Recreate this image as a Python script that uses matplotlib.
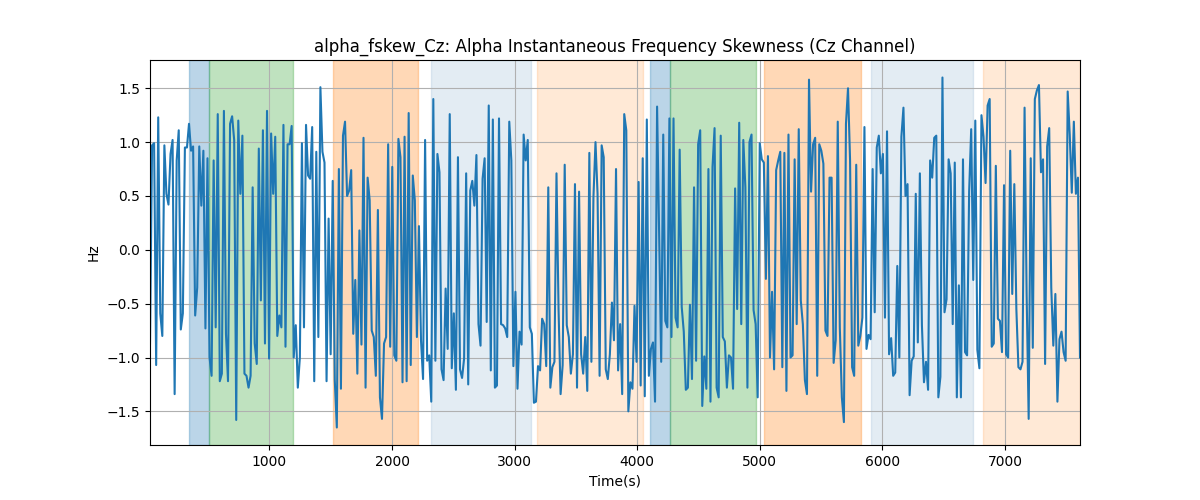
import numpy as np
import matplotlib
matplotlib.use("Agg")
import matplotlib.pyplot as plt

# skewness values, in time order
fskew = [
    -0.87, 0.97, 0.99, -1.07, 1.23, -0.59, -0.80, 0.97, 0.52, 0.42,
    0.89, 1.02, -1.34, 0.83, 1.11, -0.74, -0.59, 0.95, 0.95, 1.17,
    0.92, 0.96, -0.61, -0.35, 0.96, 0.41, 0.92, -0.73, 0.85, -1.00,
    -1.17, 0.83, -0.72, 1.26, -1.22, -1.15, 1.29, -0.78, -1.22, 1.17,
    1.24, 1.02, -1.58, 1.20, 0.52, 1.06, -1.15, -1.17, -1.28, -1.17,
    0.58, -0.87, -1.06, 0.94, -0.47, 1.11, -0.87, 1.29, -1.01, 1.08,
    0.52, 1.05, -0.80, -0.61, -0.72, 1.16, -0.90, 0.98, 0.98, 1.15,
    -1.00, -0.70, -1.28, -1.00, 0.99, -0.72, 1.16, 0.69, 0.66, 1.14,
    -1.22, 0.91, -0.81, 1.51, 0.91, 0.81, -1.22, 0.29, -0.97, 0.64,
    -1.21, -1.65, 0.75, -1.29, 1.06, 1.19, 0.50, 0.55, 0.74, -0.78,
    -0.28, -1.15, 0.18, -0.88, 1.04, -1.28, 0.67, 0.46, -0.75, -0.81,
    -1.17, 0.37, -1.37, -1.57, -0.87, -0.81, 0.98, -0.90, 0.77, -0.98,
    -1.03, 1.03, 0.86, -1.23, 1.05,
    -1.22, 1.27, -1.07, 0.69, 0.46, -0.81, 0.22, -0.84, -1.20, 1.02,
    -1.03, -0.98, -1.41, 1.40, -1.03, 0.89, 0.72, -1.11, -1.21, -0.36,
    -0.92, 1.26, -1.10, -0.59, -1.30, 0.86, -1.11, -1.19, -1.01, 0.71,
    -1.25, 0.55, 0.64, 0.41, 0.88, -0.69, -0.89, 0.66, 0.85, -0.67,
    1.34, -1.12, 1.21, -1.28, -1.26, 1.22, -0.69, -0.70, -0.73, -0.81,
    1.19, 0.83, -1.08, -0.39, -1.29, -0.76, -0.88, 1.07, 0.83, 1.02,
    -0.72, -0.78, -1.42, -1.41, -1.08, -1.12, -0.64,
    -0.69, -1.08, 0.58, -1.28, -1.09, -1.04, 0.71, -0.55, -1.34, -1.07,
    0.79, -0.70, -0.81, -1.15, -0.97, 0.61, -1.28, 0.54, -0.97, -1.15,
    -0.81, -1.31, 0.90, -1.04, 0.49, 1.00, 0.52, -1.17, 0.97, 0.86,
    -1.11, -1.20, -0.97, -0.49, -0.84, 0.75, -1.12, -0.69, -1.34, 1.26,
    1.11, -1.50, -1.23, -1.29, -0.52, -1.04, 0.63, -1.26, 0.85, -1.36,
    1.21, -1.17, -0.92, -0.86, -1.41, 1.33, 0.15, -1.04, 1.07, -0.66,
    -0.72, 1.22, -0.81, 1.22, -0.63, -0.72, 0.93, -0.53, -0.76, -1.30,
    -1.28, -0.51, -1.20, 0.58, -1.03, 0.98, 1.11, -1.45, -0.99, -1.29,
    0.75, -1.41, 0.77, 1.13, -1.28, -1.37, 1.06, -0.81, -0.85, -1.28,
    -0.98, -1.00, -1.29, 0.57, -0.55, 1.18, -0.69, 1.02, 0.58, -1.28,
    1.00, 1.07, -0.56, -0.69, -1.37, 0.99, 0.84, 0.81, -0.27, 0.87,
    -1.00, -0.39, -1.11, 0.74, 0.83, 0.91, -1.09, 0.90, -1.31, 1.07,
    -1.00, -0.98, 0.84, -0.69, 1.12, -0.47, -0.69, -1.21,
    -1.34, 1.58, 0.54, 0.98, 1.04, -1.17, 0.98, 0.92, 0.80, -0.75,
    -0.80, 0.67, 0.67, -1.05, -0.84, 1.19, -0.72, -1.37, -1.60, 1.17,
    1.50, 0.83, -1.09, -1.17, 0.79, -0.89, -0.80, -0.63, 1.14, -0.92,
    -0.79, -0.83, 0.75, -0.58, 0.95, 1.06, 0.71, 0.89, -0.63, 1.10,
    -0.97, -0.82, -1.17, -1.14, -0.15, -1.00, 1.05, 1.32, 0.50, 0.61,
    -1.35, -1.03, -0.99, 0.52, -0.86, 0.71, -0.70, -1.23, -1.04, -1.30,
    0.83, 0.67, 1.04, 1.06, -1.37, -1.18, 1.60,
    -0.58, -0.46, 0.84, 0.71, -0.69, 0.81, -1.37, -0.33, -1.37, 0.84,
    -0.95, -0.98, 0.54, 1.12, -0.28, 1.20, -0.93, -1.10, 1.25, 1.05,
    0.62, 1.34, 1.40, -0.90, -0.87, 0.78, -0.64, -0.66, -0.95, 0.60,
    -0.97, -1.00, 0.92, -0.41, 0.61, -0.55, -1.09, -1.11, -1.04, 1.32,
    -0.41, -1.57, 0.85, -0.91, 1.40, 1.48, 1.53, 0.72, 0.84, -1.06,
    0.96, 1.13, -0.35, -0.89, -0.41, -1.41, -0.83, -0.76, -0.95, -1.03,
    1.47, 1.07, 0.53, 1.19, 0.52, 0.67, -1.00,
]
t_first = 26
t_last = 7612

# shaded task periods
span_start = [347, 510, 1522, 2322, 3185, 4102, 4265, 5033, 5906, 6820]
span_end = [510, 1190, 2216, 3136, 4048, 4265, 4973, 5822, 6736, 7612]
span_color = ['tab:blue', 'tab:green', 'tab:orange', 'steelblue', 'tab:orange',
              'tab:blue', 'tab:green', 'tab:orange', 'steelblue', 'tab:orange']
span_alpha = [0.3, 0.3, 0.3, 0.15, 0.17, 0.3, 0.3, 0.3, 0.15, 0.17]

t = np.linspace(t_first, t_last, len(fskew))

fig, ax = plt.subplots(figsize=(12, 5), dpi=100)
for s, e, c, a in zip(span_start, span_end, span_color, span_alpha):
    ax.axvspan(s, e, color=c, alpha=a, lw=1)
ax.plot(t, fskew, color='tab:blue')
ax.set_xlim(t[0], t[-1])
ax.set_title("alpha_fskew_Cz: Alpha Instantaneous Frequency Skewness (Cz Channel)")
ax.set_xlabel("Time(s)")
ax.set_ylabel("Hz")
ax.grid(True)
fig.savefig("out.png")
